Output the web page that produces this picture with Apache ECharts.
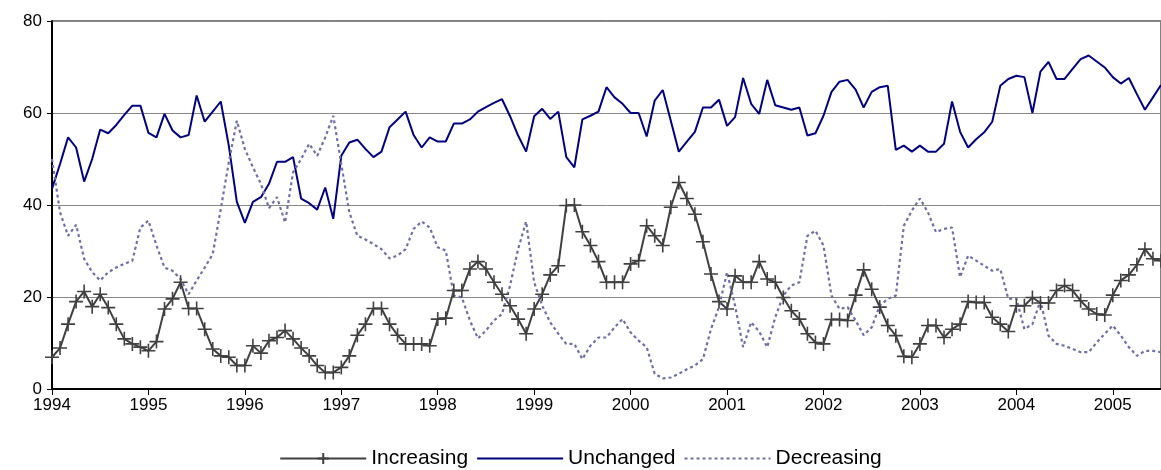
<!DOCTYPE html>
<html>
<head>
<meta charset="utf-8">
<script src="https://cdn.jsdelivr.net/npm/echarts@6/dist/echarts.min.js"></script>
<style>html,body{margin:0;padding:0;background:#fff}#main{width:1161px;height:470px}</style>
</head>
<body>
<div id="main"></div>
<script>
// monthly, Jan 1994 .. Jul 2005
var months = [];
for (var y = 1994; y <= 2005; y++) {
	for (var m = 1; m <= 12; m++) {
		if (y == 2005 && m > 7) break;
		months.push(y + '-' + m);
	}
}
var increasing = [6.9,8.9,14.1,19,21.2,17.9,20.6,17.7,14.1,10.9,9.8,9.1,8.3,10.3,17.4,19.6,23.2,17.5,17.5,13,8.7,7.2,6.9,5.1,5.1,9.4,7.8,10.5,11.2,12.7,10.9,8.9,7.2,5.1,3.6,
	3.6,4.7,7.2,11.7,14.1,17.5,17.5,14.1,11.7,9.8,9.8,9.8,9.4,15.2,15.4,21.4,21.4,26.1,27.7,26.1,23.2,20.6,18.1,15.2,12,17.4,20.6,24.8,26.8,39.9,40,34.2,31.2,27.7,
	23.2,23.2,23.2,27.2,27.9,35.5,33.3,31.2,39.5,44.9,41.4,38,32,25,19,17.4,24.6,23.2,23.2,27.7,23.9,23.2,19.9,17,15.2,12,10.1,9.8,15.1,15.1,14.9,20.4,25.9,21.7,17.8,13.8,
	11.6,7.1,6.9,9.8,13.8,13.8,11.2,13,14.1,19,18.8,18.8,15.6,14.1,12.5,18.1,18.1,19.9,18.7,18.7,21.4,22.5,21.4,19.2,17.4,16.3,16.1,20.4,23.6,24.8,27,30.4,28.3,27.9];
var unchanged = [43.5,48.9,54.7,52.5,45.1,50,56.4,55.6,57.4,59.6,61.6,61.6,55.7,54.7,59.8,56.2,54.7,55.2,63.8,58.1,60.3,62.5,52.9,40.7,36.1,40.7,41.7,44.6,49.4,49.4,50.4,41.4,40.4,39,43.8,
	37,50.7,53.6,54.2,52.2,50.4,51.6,56.9,58.6,60.3,55.2,52.5,54.7,53.8,53.8,57.7,57.7,58.6,60.3,61.3,62.2,63,59.3,55.1,51.6,59.3,60.9,58.7,60.3,50.4,48.2,58.6,59.4,60.3,
	65.6,63.4,62,60,60,54.9,62.7,65,58.3,51.6,53.8,55.9,61.2,61.2,62.9,57.2,59.1,67.6,62,59.8,67.2,61.7,61.2,60.7,61.2,55.1,55.6,59.4,64.6,66.8,67.2,65.1,61.2,64.6,65.6,65.9,
	52,52.9,51.6,52.9,51.6,51.6,53.3,62.5,55.9,52.5,54.3,55.8,58.1,65.9,67.4,68.1,67.8,60,69,71.1,67.4,67.4,69.6,71.7,72.5,71.2,69.9,67.8,66.4,67.6,64.1,60.7,63.4,66.1];
var decreasing = [50,38.4,33.3,35.7,28.3,25.4,23.6,25.4,26.4,27.2,27.9,35.1,36.6,31.2,26.4,25.7,23.9,20.6,23.6,26.4,29.3,39.1,49.3,58.3,52.2,48.2,44.6,39.3,41.7,36.2,47.1,50,53.3,50.7,54.7,
	59.4,48.9,38.4,33.3,32.5,31.5,30.4,28.4,29,30.4,34.8,36.4,35.1,30.8,30.1,20.3,19.9,14.9,11,12.7,14.9,16.3,22.5,30.4,36.4,23.2,18.1,14.5,12,9.8,9.8,6.5,9.4,11.2,
	11.2,13.4,15.2,12.3,10.5,9.1,3.3,2.3,2.5,3.3,4.3,5.1,6.5,13,17.8,25.4,18.1,9.1,14.5,12.5,9.1,15.6,20.3,22.5,23.2,33.3,34.4,31.2,20.3,17.4,17.8,14.9,11.7,13.4,18.1,19.6,
	20.3,35.5,38.8,41.4,38.4,34.1,34.8,35.1,24.3,29,27.9,26.8,25.7,26.1,19.6,19.7,13,14.1,19.2,11.6,9.8,9.4,8.7,8,8,10.1,12,13.8,11.6,9.1,7.2,8.3,8.3,8,5.8];
var yTicks = [0, 20, 40, 60, 80];

var plus = 'path://M0,5L10,5M5,0L5,10';
var chart = echarts.init(document.getElementById('main'));
var font = 'Arial, "Liberation Sans", sans-serif';
chart.setOption({
	animation: false,
	textStyle: { fontFamily: font },
	grid: { left: 52, right: 0, top: 21, bottom: 81, show: true, borderColor: '#000', borderWidth: 1 },
	legend: {
		bottom: -4, itemWidth: 86, itemHeight: 14, itemGap: 8,
		textStyle: { fontSize: 21, color: '#000', fontFamily: font },
		data: [
			{ name: 'Increasing' },
			{ name: 'Unchanged', itemStyle: { opacity: 0 } },
			{ name: 'Decreasing', itemStyle: { opacity: 0 } }
		]
	},
	xAxis: {
		type: 'category', data: months, boundaryGap: false,
		axisLine: { lineStyle: { color: '#000', width: 2 } },
		axisTick: { interval: function (i) { return i % 12 == 0; }, length: 6, lineStyle: { color: '#000' } },
		axisLabel: {
			interval: function (i) { return i % 12 == 0; },
			formatter: function (v) { return v.split('-')[0]; },
			fontSize: 17, color: '#000', margin: 8
		},
		splitLine: { show: false }
	},
	yAxis: {
		type: 'value', min: 0, max: 80, interval: 20,
		axisLine: { show: true, lineStyle: { color: '#000', width: 2 } },
		axisTick: { show: true, length: 5, lineStyle: { color: '#000' } },
		axisLabel: { fontSize: 17, color: '#000', margin: 10,
			formatter: function (v) { return yTicks.indexOf(v) >= 0 ? v : ''; } },
		splitLine: { lineStyle: { color: '#888', width: 1 } }
	},
	series: [
		{ name: 'Increasing', type: 'line', data: increasing, symbol: plus, symbolSize: 14, showAllSymbol: true,
			lineStyle: { color: '#404040', width: 2 },
			itemStyle: { color: '#404040', borderColor: '#404040', borderWidth: 1.6 } },
		{ name: 'Unchanged', type: 'line', data: unchanged, showSymbol: false,
			lineStyle: { color: '#000080', width: 2 }, itemStyle: { color: '#000080' } },
		{ name: 'Decreasing', type: 'line', data: decreasing, showSymbol: false,
			lineStyle: { color: '#6f6fa8', width: 2.2, type: [3, 3] }, itemStyle: { color: '#6f6fa8' } }
	]
});
</script>
</body>
</html>
